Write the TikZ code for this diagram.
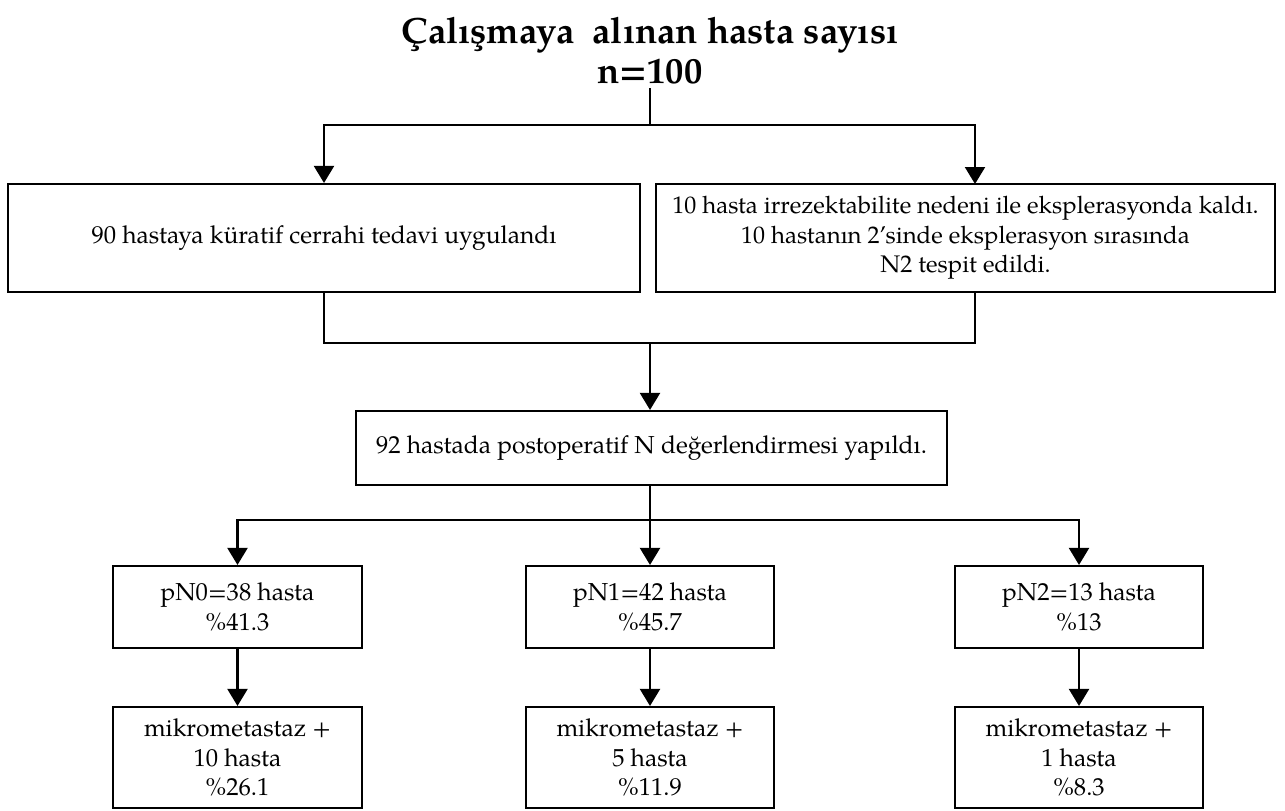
\documentclass[tikz,border=0pt]{standalone}
\usepackage{fontspec}
\setmainfont{texgyrepagella}[Extension=.otf,UprightFont=*-regular,BoldFont=*-bold,ItalicFont=*-italic,BoldItalicFont=*-bolditalic]
\usetikzlibrary{arrows.meta}
\tikzset{
  box/.style={draw, line width=2.1pt, inner sep=0pt, align=center, font=\fontsize{24.6}{29.5}\selectfont},
  conn/.style={line width=2.1pt},
  arr/.style={conn, -{Triangle[width=20pt,length=17pt]}},
}
\begin{document}
\begin{tikzpicture}[x=1pt,y=-1pt]
\useasboundingbox (0,0) rectangle (1285,811);
% title
\node[align=center, font=\bfseries\fontsize{36.5}{40}\selectfont, inner sep=0pt] (title) at (650,51) {Çalışmaya\ \ alınan hasta sayısı\\n=100};
% boxes
\node[box, minimum width=632pt, minimum height=108pt] (L) at (324,238) {90 hastaya küratif cerrahi tedavi uygulandı};
\node[box, minimum width=619pt, minimum height=108pt, font=\fontsize{24}{29.5}\selectfont] (R) at (965.5,238) {10 hasta irrezektabilite nedeni ile eksplerasyonda kaldı.\\10 hastanın 2’sinde eksplerasyon sırasında\\N2 tespit edildi.};
\node[box, minimum width=591pt, minimum height=74pt] (M) at (651.5,448) {92 hastada postoperatif N değerlendirmesi yapıldı.};
\node[box, minimum width=249pt, minimum height=82pt] (P0) at (237.5,607) {pN0=38 hasta\\\%41.3};
\node[box, minimum width=248pt, minimum height=82pt] (P1) at (650,607) {pN1=42 hasta\\\%45.7};
\node[box, minimum width=248pt, minimum height=82pt] (P2) at (1079,607) {pN2=13 hasta\\\%13};
\node[box, minimum width=249pt, minimum height=101pt] (K0) at (237.5,757.5) {mikrometastaz +\\10 hasta\\\%26.1};
\node[box, minimum width=248pt, minimum height=101pt] (K1) at (650,757.5) {mikrometastaz +\\5 hasta\\\%11.9};
\node[box, minimum width=248pt, minimum height=101pt] (K2) at (1079,757.5) {mikrometastaz +\\1 hasta\\\%8.3};
% junctions
\coordinate (j0) at (650,88);
\coordinate (j1) at (650,125);
\coordinate (rt) at (975,184);
\coordinate (rb) at (975,292);
\coordinate (j2) at (650,343);
\coordinate (j3) at (650,520);
% connectors
\draw[conn] (j0) -- (j1);
\draw[arr] (j1) -| (L.north);
\draw[arr] (j1) -| (rt);
\draw[conn] (L.south) |- (j2);
\draw[conn] (rb) |- (j2);
\draw[arr] (j2) -- (M.north -| j2);
\draw[conn] (M.south -| j3) -- (j3);
\draw[arr] (j3) -| (P0.north);
\draw[arr] (j3) -- (P1.north);
\draw[arr] (j3) -| (P2.north);
\draw[arr] (P0.south) -- (K0.north);
\draw[arr] (P1.south) -- (K1.north);
\draw[arr] (P2.south) -- (K2.north);
\end{tikzpicture}
\end{document}
